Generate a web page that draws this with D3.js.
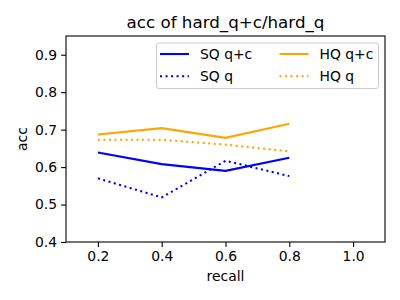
<!DOCTYPE html>
<html>
<head>
<meta charset="utf-8">
<script src="https://cdn.jsdelivr.net/npm/d3@7"></script>
<style>
  body { margin: 0; background: #fff; }
  text { font-family: "DejaVu Sans", sans-serif; fill: #000; }
</style>
</head>
<body>
<div id="chart"></div>
<script>
// data
const recall = [0.2, 0.4, 0.6, 0.8];
const sqQC = [0.639, 0.608, 0.590, 0.625];
const sqQ = [0.570, 0.519, 0.617, 0.576];
const hqQC = [0.687, 0.704, 0.678, 0.716];
const hqQ = [0.673, 0.673, 0.660, 0.642];
const xTicks = [0.2, 0.4, 0.6, 0.8, 1.0];
const yTicks = [0.4, 0.5, 0.6, 0.7, 0.8, 0.9];

const series = [
  {name: "SQ q+c", values: sqQC, color: "blue", dotted: false},
  {name: "SQ q", values: sqQ, color: "blue", dotted: true},
  {name: "HQ q+c", values: hqQC, color: "orange", dotted: false},
  {name: "HQ q", values: hqQ, color: "orange", dotted: true}
];

const W = 400, H = 300;
const m = {left: 66, right: 385, top: 36, bottom: 242};

const svg = d3.select("#chart").append("svg")
  .attr("width", W).attr("height", H);

const x = d3.scaleLinear().domain([0.1, 1.1]).range([m.left, m.right]);
const y = d3.scaleLinear().domain([0.4, 0.95]).range([m.bottom, m.top]);

// axes
svg.append("g")
  .attr("transform", `translate(0,${m.bottom})`)
  .call(d3.axisBottom(x).tickValues(xTicks).tickFormat(d3.format(".1f")).tickSize(4.9).tickPadding(4))
  .call(g => g.select(".domain").remove());
svg.append("g")
  .attr("transform", `translate(${m.left},0)`)
  .call(d3.axisLeft(y).tickValues(yTicks).tickFormat(d3.format(".1f")).tickSize(4.9).tickPadding(4))
  .call(g => g.select(".domain").remove());
svg.selectAll(".tick text")
  .style("font-family", "DejaVu Sans").style("font-size", "13.9px").attr("fill", "#000");
svg.selectAll(".tick line").attr("stroke", "#000").attr("stroke-width", 1.1);

// lines
const line = d3.line()
  .x((d, i) => x(recall[i]))
  .y(d => y(d));

svg.selectAll(".series")
  .data(series)
  .enter().append("path")
  .attr("class", "series")
  .attr("d", d => line(d.values))
  .attr("fill", "none")
  .attr("stroke", d => d.color)
  .attr("stroke-width", 2.08)
  .attr("stroke-dasharray", d => d.dotted ? "2.08,3.44" : null);

// frame
svg.append("rect")
  .attr("x", m.left).attr("y", m.top)
  .attr("width", m.right - m.left).attr("height", m.bottom - m.top)
  .attr("fill", "none").attr("stroke", "#000").attr("stroke-width", 1.1);

// labels
svg.append("text")
  .attr("x", (m.left + m.right) / 2).attr("y", 28)
  .attr("text-anchor", "middle").style("font-size", "16.7px")
  .text("acc of hard_q+c/hard_q");
svg.append("text")
  .attr("x", (m.left + m.right) / 2).attr("y", 281)
  .attr("text-anchor", "middle").style("font-size", "13.9px")
  .text("recall");
svg.append("text")
  .attr("transform", `translate(27,${(m.top + m.bottom) / 2}) rotate(-90)`)
  .attr("text-anchor", "middle").style("font-size", "13.9px")
  .text("acc");

// legend
const legend = svg.append("g");
legend.append("rect")
  .attr("x", 156.5).attr("y", 43).attr("width", 222).attr("height", 45.5)
  .attr("rx", 2.5)
  .attr("fill", "#fff").attr("fill-opacity", 0.8)
  .attr("stroke", "#ccc").attr("stroke-width", 1);

const cols = [160, 279.5];
const rows = [54, 76.3];
const item = legend.selectAll(".item")
  .data(series)
  .enter().append("g")
  .attr("transform", (d, i) => `translate(${cols[Math.floor(i / 2)]},${rows[i % 2]})`);
item.append("line")
  .attr("x1", 0).attr("x2", 29).attr("y1", 0).attr("y2", 0)
  .attr("stroke", d => d.color).attr("stroke-width", 2.08)
  .attr("stroke-dasharray", d => d.dotted ? "2.08,3.44" : null);
item.append("text")
  .attr("x", 40).attr("y", 5)
  .style("font-size", "13.9px")
  .text(d => d.name);
</script>
</body>
</html>
